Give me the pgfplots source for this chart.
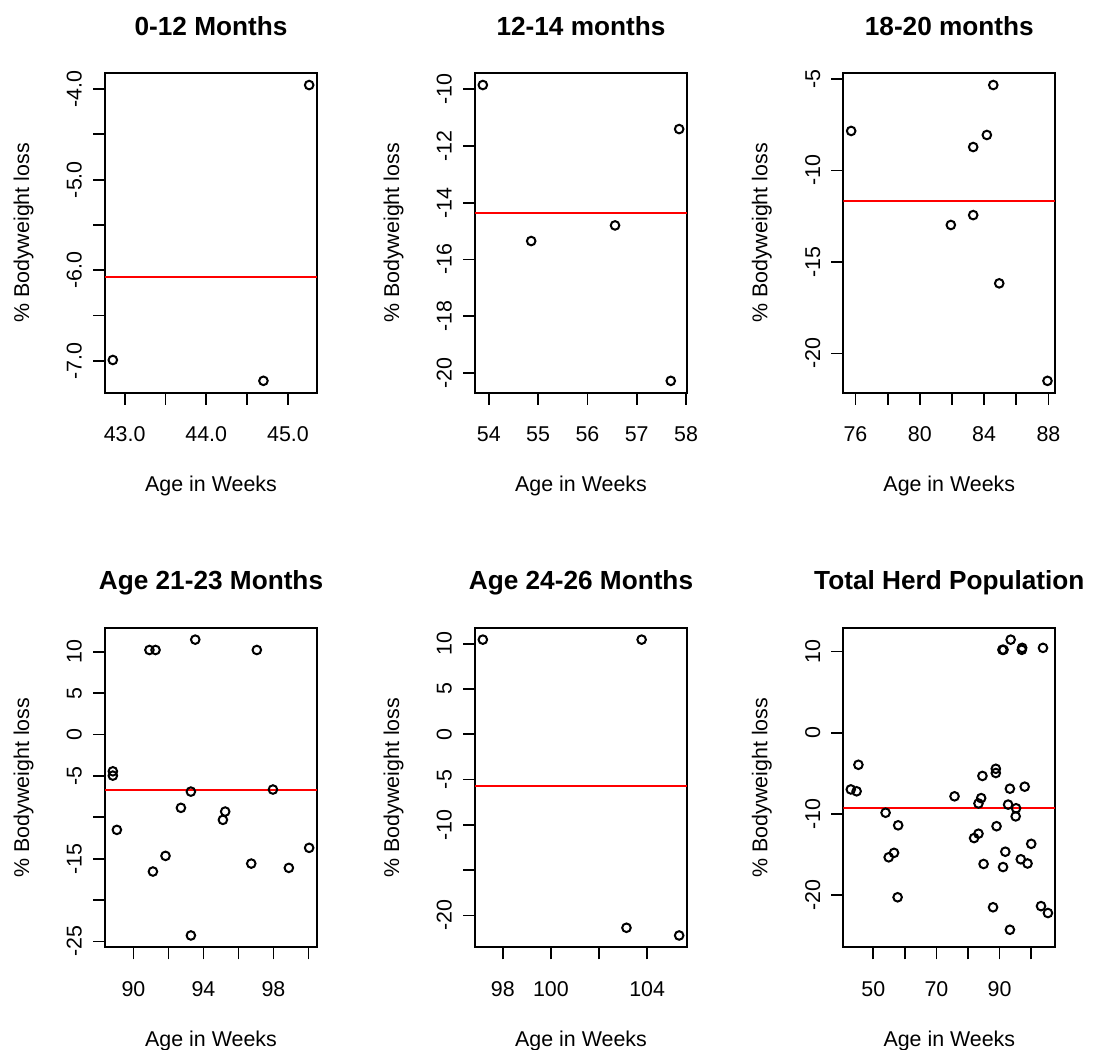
\documentclass[border=0pt]{standalone}
\usepackage{fontspec}
\setmainfont{Liberation Sans}
\usepackage{pgfplots}
\pgfplotsset{compat=1.18}
\newcommand{\nf}{\fontsize{10.7}{12.5}\selectfont}
\pgfplotsset{
  rpanel/.style={
    scale only axis, width=106pt, height=159.75pt,
    anchor=south west,
    axis line style={line width=0.9pt},
    every tick/.style={black, line width=0.9pt},
    tick align=outside, major tick length=6pt, tick pos=left,
    minor tick num=0, scaled ticks=false,
    xticklabel style={anchor=base, inner sep=0pt, font=\nf},
    yticklabel style={rotate=90, anchor=base, inner sep=0pt, font=\nf},
    xticklabel shift=18.5pt, yticklabel shift=5.65pt,
    title style={at={(0.5,1)}, anchor=base, yshift=13pt, inner sep=0pt, font=\fontsize{13.1}{15}\selectfont\bfseries},
    every axis x label/.style={at={(axis description cs:0.5,0)}, anchor=base, yshift=-49.5pt, inner sep=0pt, font=\nf},
    every axis y label/.style={at={(axis description cs:0,0.5)}, xshift=-38pt, rotate=90, anchor=base, inner sep=0pt, font=\nf},
    xlabel={Age in Weeks}, ylabel={\% Bodyweight loss},
  },
  pts/.style={only marks, black, line width=1pt, mark=o, mark size=2.15pt, mark options={line width=1pt, black}},
  mline/.style={draw=red, color=red, line width=1pt, no marks},
}
\begin{document}
\begin{tikzpicture}
\path[use as bounding box] (0,0) rectangle (547.5pt,524.5pt);
% Panel 6
\begin{axis}[rpanel, at={(421.65pt,50.85pt)}, title={Total Herd Population},
  xmin=40.48, xmax=107.68, ymin=-26.43, ymax=12.91,
  xtick={50,60,70,80,90,100}, xticklabels={{50},{},{70},{},{90},{}},
  ytick={-20,-10,0,10}, yticklabels={{-20},{-10},{0},{10}}]
\addplot[pts] coordinates {(42.856,-6.99) (44.70,-7.22) (45.26,-3.956)
 (53.88,-9.86) (54.86,-15.35) (56.56,-14.80) (57.69,-20.27) (57.86,-11.41)
 (75.73,-7.84) (84.57,-5.33) (84.17,-8.06) (83.32,-8.72) (83.32,-12.44) (81.93,-12.98) (84.94,-16.17) (87.94,-21.50)
 (88.82,-4.45) (88.82,-4.97) (90.91,10.2) (91.26,10.2) (93.53,11.45) (97.05,10.2) (93.28,-6.90) (97.97,-6.65) (92.71,-8.86) (95.24,-9.31) (95.11,-10.31) (89.05,-11.52) (91.83,-14.66) (91.11,-16.55) (96.73,-15.59) (98.88,-16.11) (100.04,-13.69) (93.28,-24.27)
 (97.17,10.44) (103.77,10.44) (103.14,-21.36) (105.33,-22.21)};
\addplot[mline] coordinates {(40.48,-9.22) (107.68,-9.22)};
\end{axis}
% Panel 1
\begin{axis}[rpanel, at={(52.5pt,328.15pt)}, title={0-12 Months},
  xmin=42.760, xmax=45.356, ymin=-7.351, ymax=-3.825,
  xtick={43,43.5,44,44.5,45}, xticklabels={{43.0},{},{44.0},{},{45.0}},
  ytick={-7,-6.5,-6,-5.5,-5,-4.5,-4}, yticklabels={{-7.0},{},{-6.0},{},{-5.0},{},{-4.0}}]
\addplot[pts] coordinates {(42.856,-6.99) (44.70,-7.22) (45.26,-3.956)};
\addplot[mline] coordinates {(42.760,-6.07) (45.356,-6.07)};
\end{axis}
% Panel 2
\begin{axis}[rpanel, at={(237.5pt,328.15pt)}, title={12-14 months},
  xmin=53.721, xmax=58.019, ymin=-20.686, ymax=-9.444,
  xtick={54,55,56,57,58}, xticklabels={{54},{55},{56},{57},{58}},
  ytick={-20,-18,-16,-14,-12,-10}, yticklabels={{-20},{-18},{-16},{-14},{-12},{-10}}]
\addplot[pts] coordinates {(53.88,-9.86) (54.86,-15.35) (56.56,-14.80) (57.69,-20.27) (57.86,-11.41)};
\addplot[mline] coordinates {(53.721,-14.36) (58.019,-14.36)};
\end{axis}
% Panel 3
\begin{axis}[rpanel, at={(421.65pt,328.15pt)}, title={18-20 months},
  xmin=75.242, xmax=88.428, ymin=-22.147, ymax=-4.683,
  xtick={76,78,80,82,84,86,88}, xticklabels={{76},{},{80},{},{84},{},{88}},
  ytick={-20,-15,-10,-5}, yticklabels={{-20},{-15},{-10},{-5}}]
\addplot[pts] coordinates {(75.73,-7.84) (84.57,-5.33) (84.17,-8.06) (83.32,-8.72) (83.32,-12.44) (81.93,-12.98) (84.94,-16.17) (87.94,-21.50)};
\addplot[mline] coordinates {(75.242,-11.67) (88.428,-11.67)};
\end{axis}
% Panel 4
\begin{axis}[rpanel, at={(52.5pt,50.85pt)}, title={Age 21-23 Months},
  xmin=88.371, xmax=100.489, ymin=-25.699, ymax=12.879,
  xtick={90,92,94,96,98,100}, xticklabels={{90},{},{94},{},{98},{}},
  ytick={-25,-20,-15,-10,-5,0,5,10}, yticklabels={{-25},{},{-15},{},{-5},{0},{5},{10}}]
\addplot[pts] coordinates {(88.82,-4.45) (88.82,-4.97) (90.91,10.2) (91.26,10.2) (93.53,11.45) (97.05,10.2) (93.28,-6.90) (97.97,-6.65) (92.71,-8.86) (95.24,-9.31) (95.11,-10.31) (89.05,-11.52) (91.83,-14.66) (91.11,-16.55) (96.73,-15.59) (98.88,-16.11) (100.04,-13.69) (93.28,-24.27)};
\addplot[mline] coordinates {(88.371,-6.68) (100.489,-6.68)};
\end{axis}
% Panel 5
\begin{axis}[rpanel, at={(237.5pt,50.85pt)}, title={Age 24-26 Months},
  xmin=96.844, xmax=105.656, ymin=-23.516, ymax=11.746,
  xtick={98,100,102,104}, xticklabels={{98},{100},{},{104}},
  ytick={-20,-15,-10,-5,0,5,10}, yticklabels={{-20},{},{-10},{-5},{0},{5},{10}}]
\addplot[pts] coordinates {(97.17,10.44) (103.77,10.44) (103.14,-21.36) (105.33,-22.21)};
\addplot[mline] coordinates {(96.844,-5.68) (105.656,-5.68)};
\end{axis}
\end{tikzpicture}
\end{document}
